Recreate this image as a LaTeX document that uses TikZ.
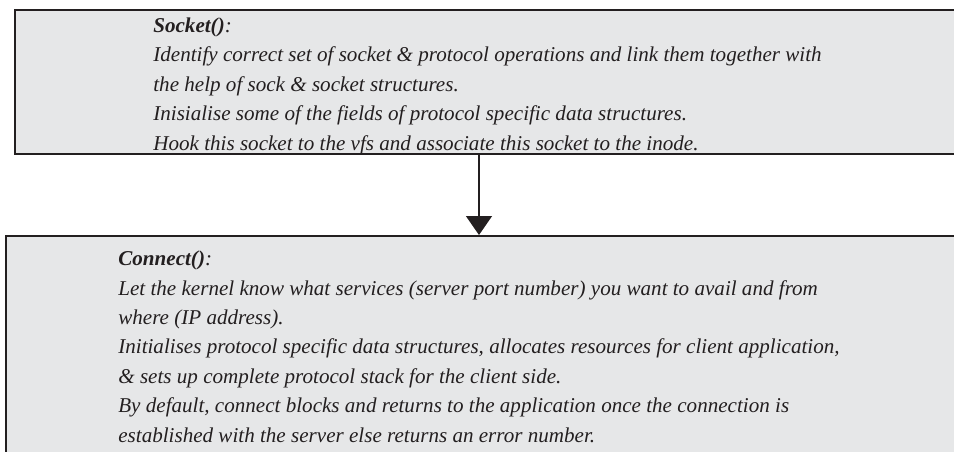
\documentclass[tikz,border=0pt]{standalone}
\usepackage{fontspec}
\setmainfont{Liberation Serif}
\usetikzlibrary{arrows.meta, positioning, calc}
\definecolor{panelgray}{HTML}{E6E7E8}
\definecolor{inkblack}{HTML}{231F20}

\begin{document}
\begin{tikzpicture}[x=0.02cm, y=-0.02cm,
    panel/.style={draw=inkblack, fill=panelgray, line width=1.1pt, rectangle, inner sep=0pt, anchor=north west},
    calltext/.style={font=\fontsize{12}{16.7}\selectfont\itshape, text=inkblack, align=left, inner sep=0pt, anchor=base west},
    flow/.style={-{Triangle[length=0.38cm, width=0.52cm]}, draw=inkblack, line width=0.8pt}]
    \clip (0,0) rectangle (954,451);

    % 1. Socket() panel (text placed by its last baseline)
    \node[panel, minimum width=19.4cm, minimum height=2.88cm] (socket) at (14,9) {};
    \node[calltext] (sockettext) at (153,150) {\textbf{Socket()}:\\
        Identify correct set of socket \& protocol operations and link them together with\\
        the help of sock \& socket structures.\\
        Inisialise some of the fields of protocol specific data structures.\\
        Hook this socket to the vfs and associate this socket to the inode.};

    % 2. Connect() panel
    \node[panel, minimum width=19.4cm, minimum height=5cm] (connect) at (5,235) {};
    \node[calltext] (connecttext) at (118,442) {\textbf{Connect()}:\\
        Let the kernel know what services (server port number) you want to avail and from\\
        where (IP address).\\
        Initialises protocol specific data structures, allocates resources for client application,\\
        \& sets up complete protocol stack for the client side.\\
        By default, connect blocks and returns to the application once the connection is\\
        established with the server else returns an error number.};

    % 3. Flow between them
    \coordinate (drop) at (479,0);
    \draw[flow] (socket.south -| drop) -- (connect.north -| drop);
\end{tikzpicture}
\end{document}
